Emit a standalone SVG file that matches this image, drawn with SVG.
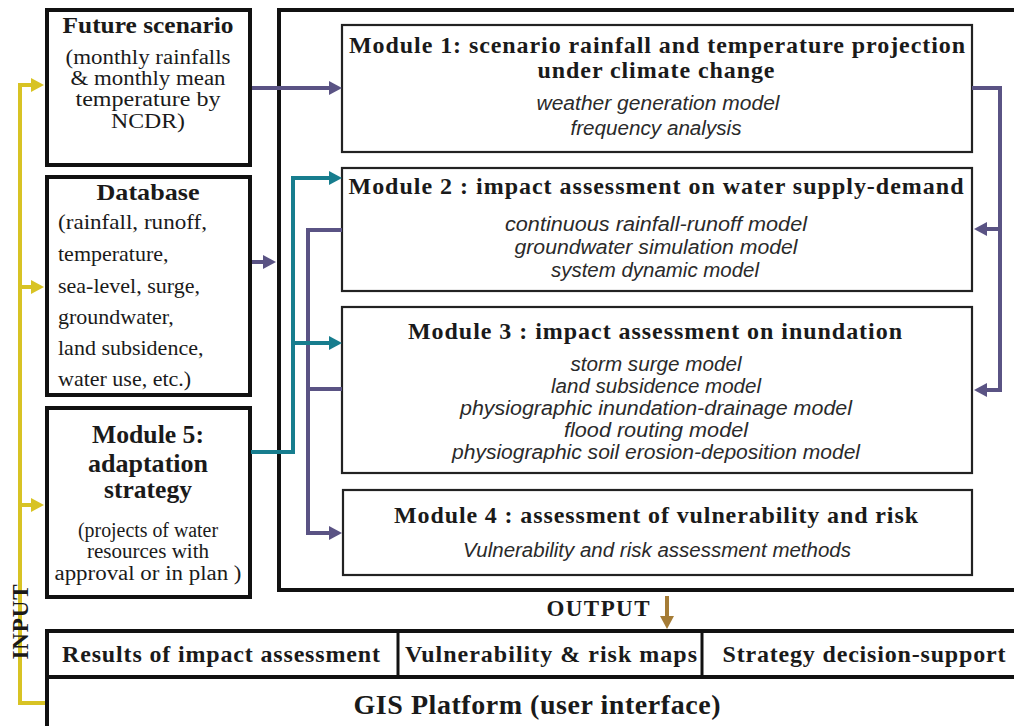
<svg xmlns="http://www.w3.org/2000/svg" width="1014" height="726" viewBox="0 0 1014 726">
<defs>
<style>
.thick{fill:#fff;stroke:#111;stroke-width:4}
.thin{fill:#fff;stroke:#222;stroke-width:2.2}
.b{font-family:"Liberation Serif","Times New Roman",serif;font-weight:bold;fill:#1a1a1a}
.r{font-family:"Liberation Serif","Times New Roman",serif;fill:#1a1a1a}
.i{font-family:"Liberation Sans",Arial,sans-serif;font-style:italic;fill:#2a2a2a;font-size:20px}
.c{fill:none;stroke-width:4}
.pu{stroke:#5a5384}
.te{stroke:#177d8e}
.ye{stroke:#d8c324}
.br{stroke:#a57c36}
</style>
<marker id="ap" markerUnits="userSpaceOnUse" markerWidth="14" markerHeight="14" refX="8" refY="7" orient="auto"><path d="M0,0 L13,7 L0,14 z" fill="#5a5384"/></marker>
<marker id="at" markerUnits="userSpaceOnUse" markerWidth="14" markerHeight="14" refX="8" refY="7" orient="auto"><path d="M0,0 L13,7 L0,14 z" fill="#177d8e"/></marker>
<marker id="ay" markerUnits="userSpaceOnUse" markerWidth="14" markerHeight="14" refX="8" refY="7" orient="auto"><path d="M0,0 L13,7 L0,14 z" fill="#d8c324"/></marker>
<marker id="ab" markerUnits="userSpaceOnUse" markerWidth="14" markerHeight="14" refX="8" refY="7" orient="auto"><path d="M0,0 L13,7 L0,14 z" fill="#a57c36"/></marker>
</defs>
<rect width="1014" height="726" fill="#fff"/>

<g id="main-frame"><rect class="thick" x="279" y="10" width="760" height="580"/></g>

<g id="future-scenario">
<rect class="thick" x="47" y="10" width="203" height="155"/>
<text class="b" x="148" y="33" font-size="24" text-anchor="middle" textLength="171" lengthAdjust="spacingAndGlyphs">Future scenario</text>
<text class="r" x="148" y="64" font-size="20" text-anchor="middle" textLength="165" lengthAdjust="spacingAndGlyphs">(monthly rainfalls</text>
<text class="r" x="148" y="85" font-size="20" text-anchor="middle" textLength="155" lengthAdjust="spacingAndGlyphs">&amp; monthly mean</text>
<text class="r" x="148" y="106" font-size="20" text-anchor="middle" textLength="145" lengthAdjust="spacingAndGlyphs">temperature by</text>
<text class="r" x="148" y="128" font-size="21" text-anchor="middle" textLength="74" lengthAdjust="spacingAndGlyphs">NCDR)</text>
</g>

<g id="database">
<rect class="thick" x="47" y="177" width="203" height="218"/>
<text class="b" x="148" y="200" font-size="24" text-anchor="middle" textLength="103" lengthAdjust="spacingAndGlyphs">Database</text>
<text class="r" x="58" y="229" font-size="22" textLength="149" lengthAdjust="spacingAndGlyphs">(rainfall, runoff,</text>
<text class="r" x="58" y="261" font-size="22">temperature,</text>
<text class="r" x="58" y="293" font-size="22">sea-level, surge,</text>
<text class="r" x="58" y="324" font-size="22">groundwater,</text>
<text class="r" x="58" y="355" font-size="22">land subsidence,</text>
<text class="r" x="58" y="386" font-size="22">water use, etc.)</text>
</g>

<g id="module5">
<rect class="thick" x="47" y="408" width="203" height="189"/>
<text class="b" x="148" y="443" font-size="25" text-anchor="middle" textLength="112" lengthAdjust="spacingAndGlyphs">Module 5:</text>
<text class="b" x="148" y="472" font-size="25" text-anchor="middle" textLength="120" lengthAdjust="spacingAndGlyphs">adaptation</text>
<text class="b" x="148" y="498" font-size="25" text-anchor="middle" textLength="88" lengthAdjust="spacingAndGlyphs">strategy</text>
<text class="r" x="148" y="537" font-size="20" text-anchor="middle" textLength="140" lengthAdjust="spacingAndGlyphs">(projects of water</text>
<text class="r" x="148" y="558" font-size="20" text-anchor="middle" textLength="122" lengthAdjust="spacingAndGlyphs">resources with</text>
<text class="r" x="148" y="580" font-size="20" text-anchor="middle" textLength="187" lengthAdjust="spacingAndGlyphs">approval or in plan )</text>
</g>

<g id="module1">
<rect class="thin" x="342" y="25" width="630" height="127"/>
<text class="b" x="657" y="53" font-size="24" text-anchor="middle" textLength="616" lengthAdjust="spacing">Module 1: scenario rainfall and temperature projection</text>
<text class="b" x="656" y="78" font-size="24" text-anchor="middle" textLength="237" lengthAdjust="spacing">under climate change</text>
<text class="i" x="658" y="110" text-anchor="middle" textLength="243" lengthAdjust="spacingAndGlyphs">weather generation model</text>
<text class="i" x="656" y="135" text-anchor="middle" textLength="171" lengthAdjust="spacingAndGlyphs">frequency analysis</text>
</g>

<g id="module2">
<rect class="thin" x="342" y="168" width="630" height="123"/>
<text class="b" x="656" y="194" font-size="24" text-anchor="middle" textLength="615" lengthAdjust="spacing">Module 2 : impact assessment on water supply-demand</text>
<text class="i" x="656" y="231" text-anchor="middle" textLength="302" lengthAdjust="spacingAndGlyphs">continuous rainfall-runoff model</text>
<text class="i" x="656" y="254" text-anchor="middle" textLength="283" lengthAdjust="spacingAndGlyphs">groundwater simulation model</text>
<text class="i" x="655" y="277" text-anchor="middle" textLength="208" lengthAdjust="spacingAndGlyphs">system dynamic model</text>
</g>

<g id="module3">
<rect class="thin" x="342" y="307" width="630" height="166"/>
<text class="b" x="655" y="339" font-size="24" text-anchor="middle" textLength="494" lengthAdjust="spacing">Module 3 : impact assessment on inundation</text>
<text class="i" x="656" y="371" text-anchor="middle" textLength="171" lengthAdjust="spacingAndGlyphs">storm surge model</text>
<text class="i" x="656" y="393" text-anchor="middle" textLength="210" lengthAdjust="spacingAndGlyphs">land subsidence model</text>
<text class="i" x="656" y="415" text-anchor="middle" textLength="392" lengthAdjust="spacingAndGlyphs">physiographic inundation-drainage model</text>
<text class="i" x="656" y="437" text-anchor="middle" textLength="184" lengthAdjust="spacingAndGlyphs">flood routing model</text>
<text class="i" x="656" y="459" text-anchor="middle" textLength="408" lengthAdjust="spacingAndGlyphs">physiographic soil erosion-deposition model</text>
</g>

<g id="module4">
<rect class="thin" x="343" y="490" width="629" height="85"/>
<text class="b" x="656" y="523" font-size="24" text-anchor="middle" textLength="524" lengthAdjust="spacing">Module 4 : assessment of vulnerability and risk</text>
<text class="i" x="657" y="557" text-anchor="middle" textLength="388" lengthAdjust="spacingAndGlyphs">Vulnerability and risk assessment methods</text>
</g>

<g id="gis-platform">
<rect class="thick" x="47" y="631" width="1000" height="110"/>
<line x1="47" y1="677" x2="1014" y2="677" stroke="#111" stroke-width="4"/>
<line x1="398" y1="631" x2="398" y2="677" stroke="#111" stroke-width="3"/>
<line x1="702" y1="631" x2="702" y2="677" stroke="#111" stroke-width="3"/>
<text class="b" x="221" y="662" font-size="24" text-anchor="middle" textLength="318" lengthAdjust="spacing">Results of impact assessment</text>
<text class="b" x="551" y="662" font-size="24" text-anchor="middle" textLength="292" lengthAdjust="spacing">Vulnerability &amp; risk maps</text>
<text class="b" x="864" y="662" font-size="24" text-anchor="middle" textLength="283" lengthAdjust="spacing">Strategy decision-support</text>
<text class="b" x="537" y="714" font-size="28" text-anchor="middle" textLength="367" lengthAdjust="spacing">GIS Platform (user interface)</text>
</g>

<g id="connectors">
<path class="c ye" d="M45,703 H20 V85 H39" marker-end="url(#ay)"/>
<path class="c ye" d="M20,287 H39" marker-end="url(#ay)"/>
<path class="c ye" d="M20,505 H39" marker-end="url(#ay)"/>
<path class="c pu" d="M252,88 H337" marker-end="url(#ap)"/>
<path class="c pu" d="M252,262 H271" marker-end="url(#ap)"/>
<path class="c pu" d="M972,88 H1000 V390 H979" marker-end="url(#ap)"/>
<path class="c pu" d="M1000,229 H979" marker-end="url(#ap)"/>
<path class="c pu" d="M342,230 H308 V533 H337" marker-end="url(#ap)"/>
<path class="c pu" d="M308,389 H342"/>
<path class="c te" d="M251,452 H293 V178 H337" marker-end="url(#at)"/>
<path class="c te" d="M293,343 H337" marker-end="url(#at)"/>
<path class="c br" d="M667,596 V624" marker-end="url(#ab)"/>
</g>

<g id="labels">
<text class="b" x="598" y="616" font-size="23" text-anchor="middle" textLength="103" lengthAdjust="spacing">OUTPUT</text>
<text class="b" x="0" y="0" font-size="23" text-anchor="middle" transform="translate(28,622) rotate(-90)" textLength="75" lengthAdjust="spacing">INPUT</text>
</g>
</svg>
